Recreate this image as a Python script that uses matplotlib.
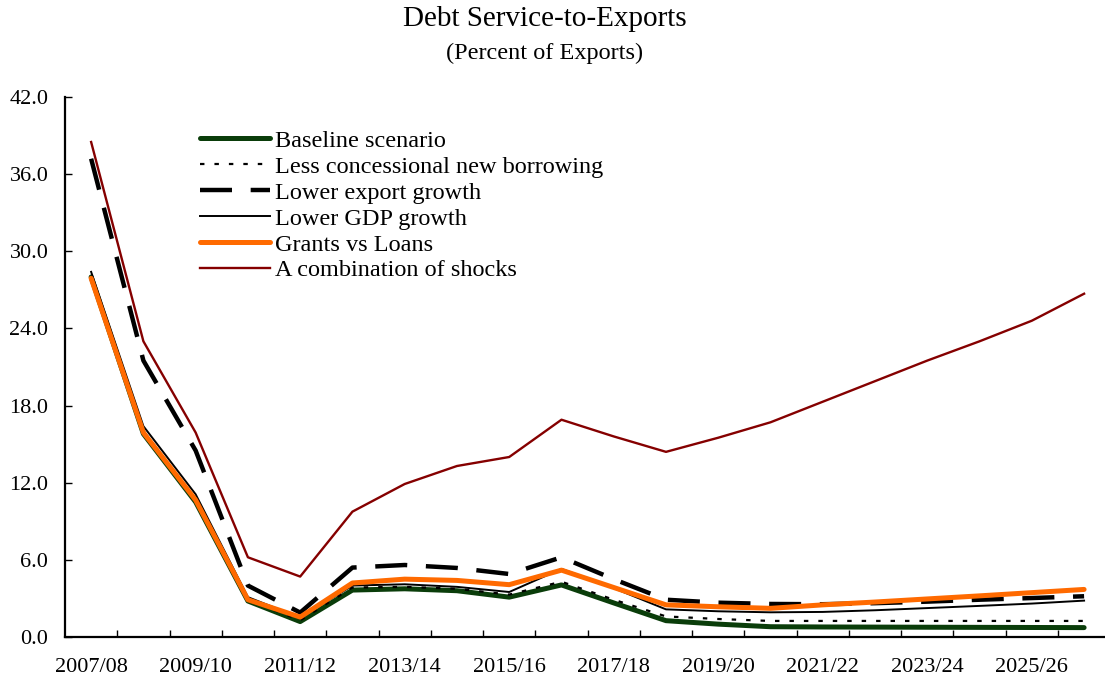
import matplotlib
matplotlib.use("Agg")
import matplotlib.pyplot as plt
import numpy as np

years = ["2007/08", "2008/09", "2009/10", "2010/11", "2011/12", "2012/13", "2013/14",
         "2014/15", "2015/16", "2016/17", "2017/18", "2018/19", "2019/20", "2020/21",
         "2021/22", "2022/23", "2023/24", "2024/25", "2025/26", "2026/27"]

baseline = [28.0, 15.8, 10.5, 2.8, 1.2, 3.65, 3.75, 3.6, 3.1, 4.05, 2.65, 1.27, 1.0, 0.8,
            0.78, 0.77, 0.76, 0.75, 0.74, 0.73]
less_concessional = [28.0, 15.9, 10.6, 2.9, 1.3, 3.85, 3.9, 3.75, 3.3, 4.3, 2.9, 1.6, 1.4, 1.25,
                     1.25, 1.25, 1.25, 1.25, 1.25, 1.25]
lower_export = [37.2, 21.5, 14.5, 4.0, 1.9, 5.4, 5.6, 5.37, 4.9, 6.2, 4.5, 2.9, 2.67, 2.57,
                2.55, 2.63, 2.75, 2.9, 3.03, 3.17]
lower_gdp = [28.4, 16.4, 11.1, 3.1, 1.5, 4.0, 4.1, 3.9, 3.5, 5.3, 3.8, 2.15, 2.0, 1.92,
             1.95, 2.08, 2.25, 2.42, 2.6, 2.83]
grants_vs_loans = [27.9, 15.9, 10.65, 2.9, 1.55, 4.2, 4.5, 4.4, 4.07, 5.2, 3.85, 2.5, 2.35, 2.23,
                   2.5, 2.72, 2.96, 3.2, 3.45, 3.7]
combination = [38.5, 23.0, 15.9, 6.2, 4.7, 9.75, 11.9, 13.3, 14.0, 16.9, 15.6, 14.4, 15.5, 16.7,
               18.3, 19.9, 21.5, 23.0, 24.6, 26.7]

labels = ["Baseline scenario", "Less concessional new borrowing", "Lower export growth",
          "Lower GDP growth", "Grants vs Loans", "A combination of shocks"]

plt.rcParams['font.family'] = ['Liberation Serif', 'DejaVu Serif']

fig = plt.figure(figsize=(11.05, 6.84), dpi=100)
ax = fig.add_axes([65/1105, 1-637/684, 1-65/1105, (637-97)/684])

x = np.arange(len(years))
ax.plot(x, baseline, color='#0a3d0a', lw=3.6, solid_capstyle='round', label=labels[0])
ax.plot(x, less_concessional, color='black', lw=1.6, dashes=(2.0, 4.5), label=labels[1])
ax.plot(x, lower_export, color='black', lw=3.2, dashes=(7.2, 4.2), label=labels[2])
ax.plot(x, lower_gdp, color='black', lw=1.4, label=labels[3])
ax.plot(x, grants_vs_loans, color='#ff6a00', lw=3.6, solid_capstyle='round', label=labels[4])
ax.plot(x, combination, color='#850000', lw=1.7, label=labels[5])

ax.set_xlim(-0.5, 19.4)
ax.set_ylim(0, 42)
ax.set_yticks(np.arange(0, 42.1, 6))
ax.set_yticklabels([f"{v:.1f}" for v in np.arange(0, 42.1, 6)])
ax.set_xticks(x[::2])
ax.set_xticklabels(years[::2])
ax.set_xticks(np.arange(0.5, 19, 1), minor=True)
ax.tick_params(axis='x', which='major', length=0, pad=15, labelsize=16)
ax.tick_params(axis='x', which='minor', direction='in', length=5, width=1)
ax.tick_params(axis='y', direction='in', length=5, width=1, pad=12, labelsize=16)

for s in ['top', 'right']:
    ax.spines[s].set_visible(False)
for s in ['left', 'bottom']:
    ax.spines[s].set_linewidth(1.6)

leg = ax.legend(loc='upper left', bbox_to_anchor=(0.12, 0.957), frameon=False,
                fontsize=17.5, handlelength=2.9, handletextpad=0.2, labelspacing=0.16,
                borderaxespad=0)

fig.text(0.493, 1-19/684, "Debt Service-to-Exports", ha='center', va='center', fontsize=21)
fig.text(0.493, 1-53/684, "(Percent of Exports)", ha='center', va='center', fontsize=17.5)

fig.savefig("out.png", dpi=100)
